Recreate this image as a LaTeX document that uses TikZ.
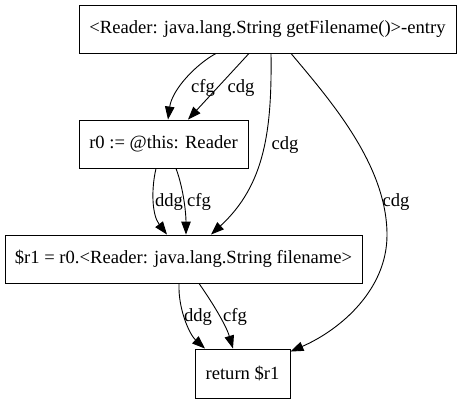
\documentclass[tikz,border=0pt]{standalone}
\usepackage{fontspec}
\setmainfont{Liberation Serif}
\usetikzlibrary{arrows.meta}

\begin{document}
\begin{tikzpicture}[x=1pt, y=-1pt, line width=0.9pt, font=\fontsize{18.6}{21}\selectfont,
    stmt/.style={draw, minimum height=48pt, inner sep=0pt},
    flow/.style={-{Triangle[length=13pt, width=9.5pt]}},
    lbl/.style={inner sep=0pt}]
    \useasboundingbox (0,0) rectangle (462,403);
    % statements
    \node[stmt, minimum width=377pt] (entry) at (267.5,29) {<Reader: java.lang.String getFilename()>-entry};
    \node[stmt, minimum width=169pt] (r0) at (163.5,144) {r0 := @this: Reader};
    \node[stmt, minimum width=357pt] (r1) at (183.5,259) {\$r1 = r0.<Reader: java.lang.String filename>};
    \node[stmt, minimum width=95pt, minimum height=49pt] (ret) at (242.5,373.5) {return \$r1};
    % edges
    \draw[flow] ([xshift=-51.5pt]entry.south) .. controls (195,65) and (172,90) .. ([xshift=4.5pt]r0.north);
    \draw[flow] ([xshift=-18.5pt]entry.south) -- ([xshift=24.5pt]r0.north);
    \draw[flow] ([xshift=3.5pt]entry.south) .. controls (272,130) and (265,185) .. ([xshift=27.5pt]r1.north);
    \draw[flow] ([xshift=23.5pt]entry.south) .. controls (330,100) and (387,165) .. (387,235)
        .. controls (387,290) and (340,330) .. ([yshift=-3pt]ret.north east);
    \draw[flow] ([xshift=-7.5pt]r0.south) .. controls (151,190) and (152,215) .. ([xshift=-16.5pt]r1.north);
    \draw[flow] ([xshift=12.5pt]r0.south) .. controls (184,190) and (186,215) .. ([xshift=2.5pt]r1.north);
    \draw[flow] ([xshift=-4.5pt]r1.south) .. controls (178,310) and (190,335) .. ([xshift=-37.5pt]ret.north);
    \draw[flow] ([xshift=15.5pt]r1.south) .. controls (212,302) and (226,325) .. ([xshift=-9.5pt]ret.north);
    % labels
    \node[lbl] (l1) at (203,88) {cfg};
    \node[lbl] (l2) at (241,88) {cdg};
    \node[lbl] (l3) at (285,145) {cdg};
    \node[lbl] (l4) at (396,202) {cdg};
    \node[lbl] (l5) at (169,202) {ddg};
    \node[lbl] (l6) at (199,202) {cfg};
    \node[lbl] (l7) at (198,317) {ddg};
    \node[lbl] (l8) at (235,317) {cfg};
\end{tikzpicture}
\end{document}
